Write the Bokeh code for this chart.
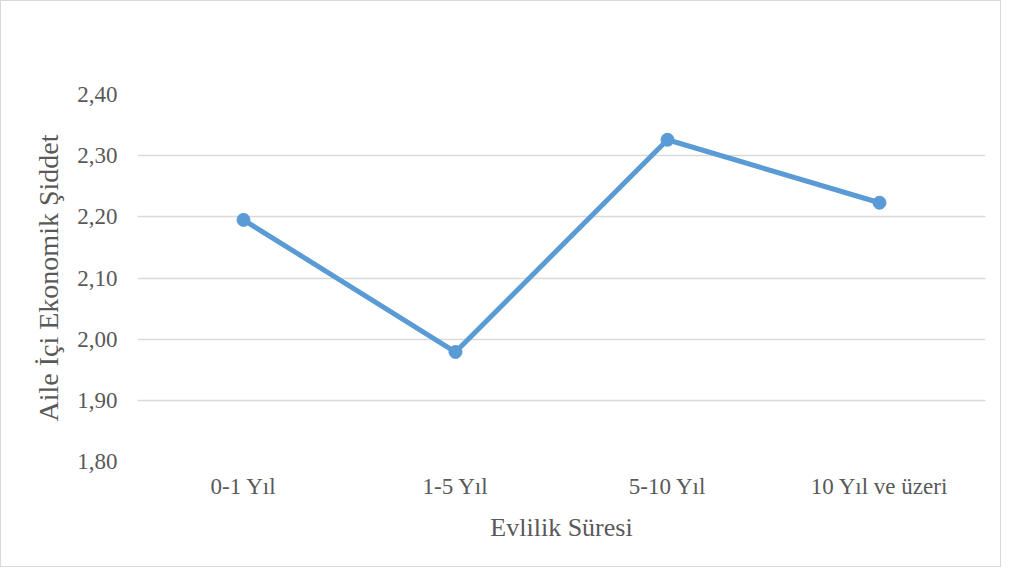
from bokeh.plotting import figure
from bokeh.models import ColumnDataSource, Range1d, FactorRange, FixedTicker
from bokeh.embed import file_html
from bokeh.resources import INLINE

categories = ["0-1 Yıl", "1-5 Yıl", "5-10 Yıl", "10 Yıl ve üzeri"]
values = [2.195, 1.979, 2.326, 2.223]
y_ticks = [1.8, 1.9, 2.0, 2.1, 2.2, 2.3, 2.4]
y_tick_labels = ["1,80", "1,90", "2,00", "2,10", "2,20", "2,30", "2,40"]
x_title = "Evlilik Süresi"
y_title = "Aile İçi Ekonomik Şiddet"

FONT = "Liberation Serif"
TXT = "#595959"
LINE = "#5b9bd5"
GRID = "#d9d9d9"

src = ColumnDataSource(dict(cat=categories, val=values))

p = figure(
    width=1001, height=567,
    x_range=FactorRange(*categories, range_padding=0),
    y_range=Range1d(y_ticks[0], y_ticks[-1]),
    output_backend="svg", toolbar_location=None,
    min_border_left=136, min_border_right=17,
    min_border_top=93, min_border_bottom=107,
)
p.styles = {"border": "1px solid #d9d9d9", "box-sizing": "border-box"}
p.outline_line_color = None
p.background_fill_color = "white"
p.border_fill_color = "white"

p.line(x="cat", y="val", source=src, line_width=5, line_color=LINE, line_join="round")
p.scatter(x="cat", y="val", source=src, size=13, fill_color=LINE, line_color=LINE)

p.xgrid.grid_line_color = None
p.ygrid.grid_line_color = GRID
p.ygrid.grid_line_width = 1.5

p.yaxis.ticker = FixedTicker(ticks=y_ticks)
p.yaxis.major_label_overrides = {t: l for t, l in zip(y_ticks, y_tick_labels)}

for ax in (p.xaxis[0], p.yaxis[0]):
    ax.axis_line_color = None
    ax.major_tick_line_color = None
    ax.minor_tick_line_color = None
    ax.major_tick_out = 0
    ax.major_tick_in = 0
    ax.major_label_text_font = FONT
    ax.major_label_text_font_size = "23px"
    ax.major_label_text_color = TXT
    ax.axis_label_text_font = FONT
    ax.axis_label_text_font_size = "26px"
    ax.axis_label_text_color = TXT
    ax.axis_label_text_font_style = "normal"

p.yaxis.axis_label_text_font_size = "28px"
p.xaxis.axis_label = x_title
p.yaxis.axis_label = y_title
p.xaxis.major_label_standoff = 12
p.xaxis.axis_label_standoff = 11
p.yaxis.major_label_standoff = 20
p.yaxis.axis_label_standoff = 10

open("out.html", "w").write(file_html(p, INLINE))
